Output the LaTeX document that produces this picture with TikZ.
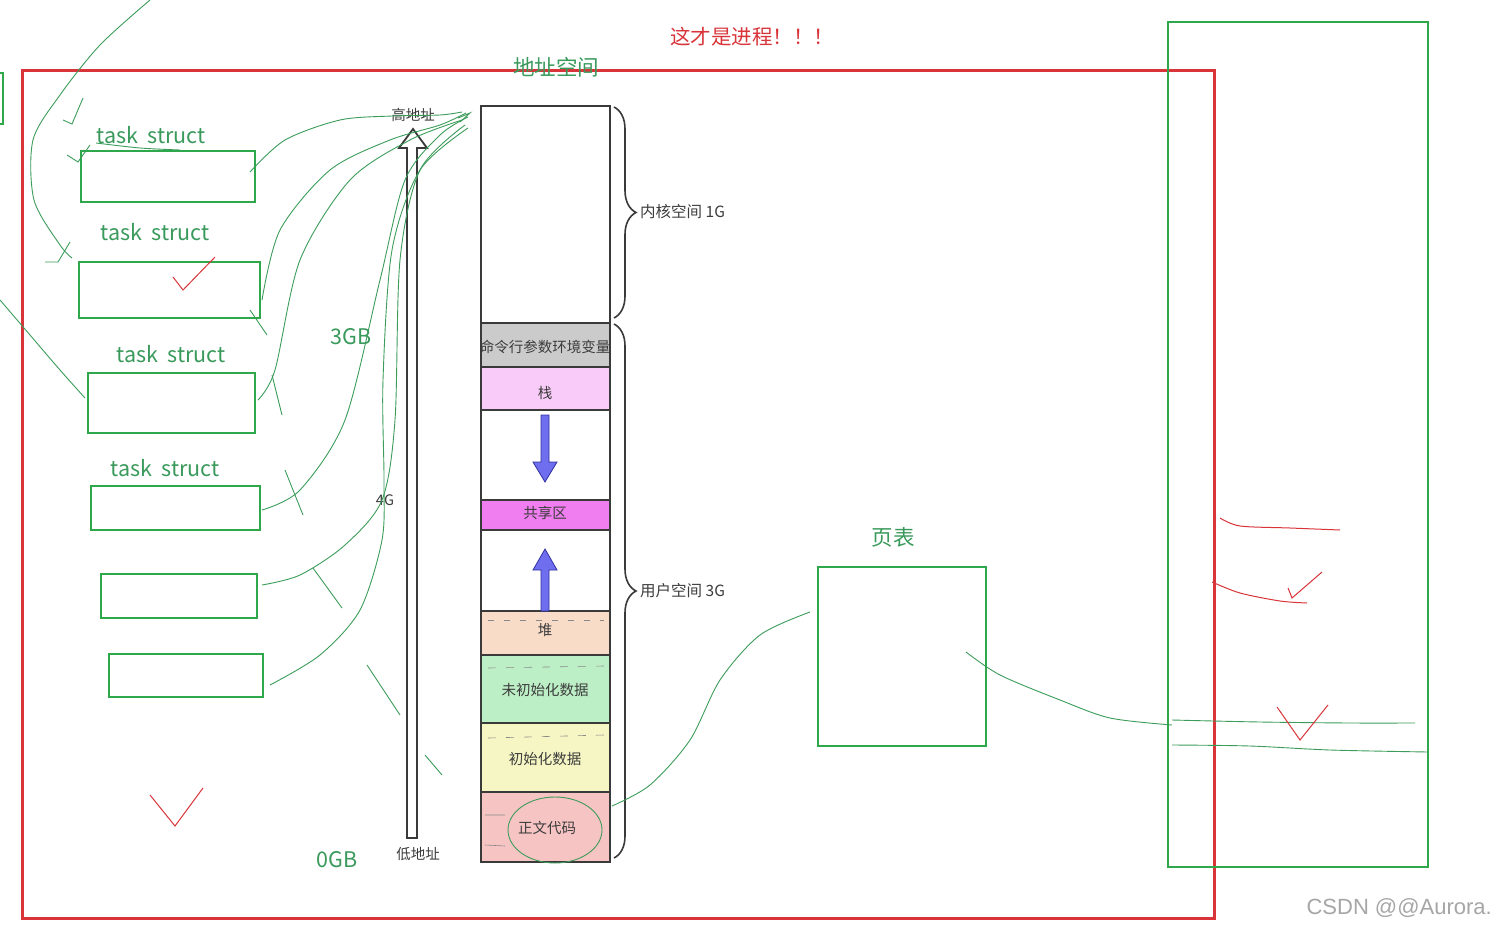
\documentclass[tikz,border=0pt]{standalone}
\usepackage{fontspec}
\newfontfamily\cjk{Noto Sans CJK SC}
\setmainfont{Noto Sans CJK SC}
\usetikzlibrary{decorations.pathreplacing}
\definecolor{penred}{HTML}{D9343A}
\definecolor{pengreen}{HTML}{2EA84A}
\definecolor{thingreen}{HTML}{3C9C5A}
\definecolor{txtgreen}{HTML}{3A9A5C}
\definecolor{segline}{HTML}{3A3A3A}
\definecolor{segtxt}{HTML}{3C3C3C}
\definecolor{cgray}{HTML}{CBCBCB}
\definecolor{cstack}{HTML}{F8CBF8}
\definecolor{cshare}{HTML}{F07EF0}
\definecolor{cheap}{HTML}{F8DCC8}
\definecolor{cbss}{HTML}{BDEFC6}
\definecolor{cdata}{HTML}{F6F6C4}
\definecolor{ctext}{HTML}{F7C4C4}
\definecolor{arrowblue}{HTML}{6E6EEE}
\definecolor{arrowdark}{HTML}{3030A0}
\tikzset{
  bigred/.style={draw=penred, line width=3pt},
  tbox/.style={draw=pengreen, line width=2.8pt},
  stroke/.style={draw=thingreen, line width=0.9pt},
  redstroke/.style={draw=penred, line width=1pt},
  lbl/.style={text=txtgreen, font=\fontsize{21.5}{25}\selectfont, inner sep=0pt},
  segtext/.style={text=segtxt, font=\fontsize{14.5}{16}\selectfont, inner sep=0pt},
  bracetext/.style={text=segtxt, font=\fontsize{15.5}{18}\selectfont, inner sep=0pt},
  seg/.style={draw=segline, line width=2pt},
  bluearrow/.style={fill=arrowblue, draw=arrowdark, line width=0.8pt},
}
\begin{document}
\begin{tikzpicture}[x=1pt,y=-1pt]
\useasboundingbox (0,0) rectangle (1496,934);
\fill[white] (0,0) rectangle (1496,934);

% frames
\draw[bigred] (22,71) rectangle (1214,918);
\draw[tbox] (1168,22) rectangle (1428,867);
\draw[tbox] (0,73) -- (3,73) -- (3,124) -- (0,124);

% titles
\node[text=penred, font=\fontsize{20.5}{24}\selectfont, inner sep=0pt] (title) at (752,37) {这才是进程！！！};
\node[lbl] (asp) at (556,67) {地址空间};

% task_struct boxes
\node[lbl] (l1) at (151,135) {task\ \ struct};
\draw[tbox] (81,151) rectangle (255,202);
\node[lbl] (l2) at (155,232) {task\ \ struct};
\draw[tbox] (79,262) rectangle (260,318);
\node[lbl] (l3) at (171,354) {task\ \ struct};
\draw[tbox] (88,373) rectangle (255,433);
\node[lbl] (l4) at (165,468) {task\ \ struct};
\draw[tbox] (91,486) rectangle (260,530);
\draw[tbox] (101,574) rectangle (257,618);
\draw[tbox] (109,654) rectangle (263,697);

\node[lbl] (gb3) at (351,337) {3GB};
\node[lbl] (gb0) at (337,860) {0GB};

% hollow address arrow
\draw[draw=segline, line width=1.8pt, fill=white, line join=miter]
  (407,838) -- (407,148) -- (399,148) -- (413,129) -- (427,148) -- (417,148) -- (417,838) -- cycle;
\node[segtext] (hi) at (413,115) {高地址};
\node[segtext] (lo) at (418,854) {低地址};
\node[segtext] (g4) at (385,500) {4G};

% memory column
\fill[white] (481,106) rectangle (610,323);
\fill[cgray] (481,323) rectangle (610,367);
\fill[cstack] (481,367) rectangle (610,410);
\fill[white] (481,410) rectangle (610,500);
\fill[cshare] (481,500) rectangle (610,530);
\fill[white] (481,530) rectangle (610,611);
\fill[cheap] (481,611) rectangle (610,655);
\fill[cbss] (481,655) rectangle (610,723);
\fill[cdata] (481,723) rectangle (610,792);
\fill[ctext] (481,792) rectangle (610,862);
\draw[seg] (481,106) rectangle (610,862);
\foreach \yy in {323,367,410,500,530,611,655,723,792} \draw[seg] (481,\yy) -- (610,\yy);
\node[segtext] (s1) at (545,347) {命令行参数环境变量};
\node[segtext] (s2) at (545,393) {栈};
\node[segtext] (s3) at (545,513) {共享区};
\node[segtext] (s4) at (545,630) {堆};
\node[segtext] (s5) at (545,690) {未初始化数据};
\node[segtext] (s6) at (545,759) {初始化数据};
\node[segtext] (s7) at (547,828) {正文代码};
% dashed sketch marks inside segments
\draw[segline!60, line width=0.6pt, dash pattern=on 6pt off 10pt] (488,620) -- (604,620);
\draw[segline!60, line width=0.6pt, dash pattern=on 8pt off 10pt] (488,668) -- (604,666);
\draw[segline!60, line width=0.6pt, dash pattern=on 8pt off 10pt] (488,738) -- (604,735);
\draw[segline!60, line width=0.6pt] (485,815) -- (505,815) (485,845) -- (505,846);

% blue arrows
\draw[bluearrow] (541,415) -- (549,415) -- (549,462) -- (557,462) -- (545,482) -- (533,462) -- (541,462) -- cycle;
\draw[bluearrow] (541,611) -- (541,570) -- (533,570) -- (545,549) -- (557,570) -- (549,570) -- (549,611) -- cycle;

% braces
\draw[segline, line width=1.6pt, decorate, decoration={brace, amplitude=22pt, aspect=0.5}] (614,107) -- (614,318);
\draw[segline, line width=1.6pt, decorate, decoration={brace, amplitude=22pt, aspect=0.5}] (614,324) -- (614,858);
\node[bracetext, anchor=west] (ks) at (640,212) {内核空间 1G};
\node[bracetext, anchor=west] (us) at (640,591) {用户空间 3G};

% page table
\node[lbl] (pt) at (893,537) {页表};
\draw[tbox] (818,567) rectangle (986,746);

% hand drawn green strokes
\draw[stroke] plot[smooth] coordinates {(250,172) (285,140) (340,120) (392,116) (440,115) (462,112)};
\draw[stroke] plot[smooth] coordinates {(262,300) (280,230) (330,170) (390,140) (440,125) (466,113)};
\draw[stroke] plot[smooth] coordinates {(258,400) (275,370) (300,260) (350,180) (410,140) (462,120)};
\draw[stroke] plot[smooth] coordinates {(262,510) (300,490) (345,420) (380,280) (405,180) (440,135) (468,117)};
\draw[stroke] plot[smooth] coordinates {(262,585) (300,575) (345,545) (382,500) (395,420) (400,260) (420,170) (465,125)};
\draw[stroke] plot[smooth] coordinates {(270,685) (320,655) (360,610) (382,540) (384,480) (383,380) (392,250) (420,170) (468,128)};
\draw[stroke] plot[smooth] coordinates {(150,0) (100,45) (60,95) (33,140) (34,200) (60,245) (72,258)};
\draw[stroke] plot[smooth] coordinates {(0,300) (30,335) (60,370) (85,398)};
\draw[stroke] plot[smooth] coordinates {(96,143) (140,148) (180,150)};
% ticks
\draw[stroke] (63,120) -- (72,124) -- (83,98);
\draw[stroke] (67,155) -- (78,162) -- (90,145);
\draw[stroke] (45,262) -- (58,262) -- (70,242);
\draw[stroke] (250,310) -- (267,335);
\draw[stroke] (272,375) -- (282,415);
\draw[stroke] (285,470) -- (303,515);
\draw[stroke] (313,568) -- (342,608);
\draw[stroke] (367,665) -- (400,715);
\draw[stroke] (425,755) -- (442,775);
\draw[stroke] (458,118) -- (470,113) -- (460,122);
% around text segment
\draw[stroke] (555,830) ellipse (47pt and 33pt);
\draw[stroke] plot[smooth] coordinates {(612,806) (650,785) (690,740) (720,680) (760,635) (810,612)};
\draw[stroke] plot[smooth] coordinates {(966,652) (1000,675) (1060,700) (1110,718) (1172,725)};
\draw[stroke] plot[smooth] coordinates {(1172,720) (1260,722) (1350,723) (1415,723)};
\draw[stroke] plot[smooth] coordinates {(1172,745) (1250,746) (1330,750) (1428,752)};

% red check marks
\draw[redstroke] (173,277) -- (183,290) -- (215,257);
\draw[redstroke] (150,795) -- (175,826) -- (203,788);
\draw[redstroke] plot[smooth] coordinates {(1220,518) (1240,526) (1290,528) (1340,530)};
\draw[redstroke] plot[smooth] coordinates {(1212,582) (1240,593) (1280,601) (1307,603)};
\draw[redstroke] (1288,588) -- (1292,598) -- (1322,572);
\draw[redstroke] (1277,707) -- (1300,740) -- (1328,705);

% watermark
\node[text=black!35, font=\fontsize{22}{26}\selectfont, inner sep=0pt, anchor=east] (wm) at (1492,908) {\fontspec{Liberation Sans}CSDN @@Aurora.};
\end{tikzpicture}
\end{document}
